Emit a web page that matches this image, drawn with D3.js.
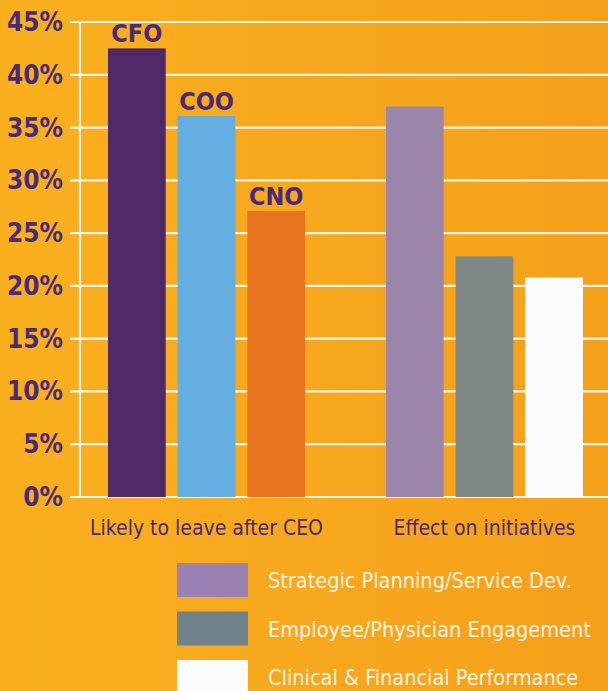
<!DOCTYPE html>
<html>
<head>
<meta charset="utf-8">
<script src="https://cdn.jsdelivr.net/npm/d3@7"></script>
<style>
  body { margin: 0; }
  svg { display: block; }
  text { font-family: "Liberation Sans Narrow", "DejaVu Sans Condensed", "Roboto", sans-serif; }
</style>
</head>
<body>
<div id="wrapper"></div>
<script>
// data
const groups = ["Likely to leave after CEO", "Effect on initiatives"]
const leaveRoles = ["CFO", "COO", "CNO"]
const leaveValues = [42.5, 36.1, 27.1]
const initiativeNames = ["Strategic Planning/Service Dev.", "Employee/Physician Engagement", "Clinical & Financial Performance"]
const initiativeValues = [37.0, 22.8, 20.8]
const yTicks = [0, 5, 10, 15, 20, 25, 30, 35, 40, 45]

const leaveColors = ["#502a68", "#64aee2", "#e8741f"]
const initiativeColors = ["#9b86aa", "#7f8886", "#fbfcfd"]
const legendColors = ["#9b82b4", "#6f818a", "#fbfcfd"]

const width = 608
const height = 691
const margin = {top: 22, left: 80, right: 0}
const y0 = 497

const svg = d3.select("#wrapper").append("svg")
    .attr("width", width)
    .attr("height", height)

// background
const defs = svg.append("defs")
const bg = defs.append("linearGradient").attr("id", "bg")
bg.append("stop").attr("offset", "0%").attr("stop-color", "#f9b01f")
bg.append("stop").attr("offset", "100%").attr("stop-color", "#f5a01b")
svg.append("rect").attr("width", width).attr("height", height).attr("fill", "url(#bg)")

const yScale = d3.scaleLinear()
    .domain([0, 45])
    .range([y0, margin.top])

// group bands
const groupScale = d3.scaleBand()
    .domain(groups)
    .range([108, 583])
    .paddingInner(0.291)
    .paddingOuter(0)

const barScale = d3.scaleBand()
    .domain([0, 1, 2])
    .range([0, groupScale.bandwidth()])
    .paddingInner(0.171)
    .paddingOuter(0)

// grid
svg.append("g")
  .selectAll("line")
  .data(yTicks)
  .join("line")
    .attr("x1", 70)
    .attr("x2", width)
    .attr("y1", d => yScale(d))
    .attr("y2", d => yScale(d))
    .attr("stroke", "#fdf6ea")
    .attr("stroke-width", 2.2)

svg.append("line")
    .attr("x1", margin.left).attr("x2", margin.left)
    .attr("y1", yScale(45)).attr("y2", y0)
    .attr("stroke", "#fdf6ea")
    .attr("stroke-width", 2.2)

// tick labels
svg.append("g")
  .selectAll("text")
  .data(yTicks)
  .join("text")
    .attr("x", 63)
    .attr("y", d => yScale(d) + 9)
    .attr("text-anchor", "end")
    .attr("font-size", 26)
    .attr("font-weight", "bold")
    .attr("fill", "#4a2a78")
    .text(d => d + "%")

const series = [
  {group: groups[0], values: leaveValues, colors: leaveColors, labels: leaveRoles},
  {group: groups[1], values: initiativeValues, colors: initiativeColors, labels: null},
]

series.forEach(s => {
  const g = svg.append("g")
      .attr("transform", `translate(${groupScale(s.group)},0)`)
  g.selectAll("rect")
    .data(s.values)
    .join("rect")
      .attr("x", (d, i) => barScale(i))
      .attr("y", d => yScale(d))
      .attr("width", barScale.bandwidth())
      .attr("height", d => y0 - yScale(d))
      .attr("fill", (d, i) => s.colors[i])
  if (s.labels) {
    g.selectAll(".bar-label")
      .data(s.values)
      .join("text")
        .attr("class", "bar-label")
        .attr("x", (d, i) => barScale(i) + barScale.bandwidth() / 2)
        .attr("y", d => yScale(d) - 6)
        .attr("text-anchor", "middle")
        .attr("font-size", 25)
        .attr("font-weight", "bold")
        .attr("fill", "#4a2a78")
        .text((d, i) => s.labels[i])
  }
  svg.append("text")
      .attr("x", groupScale(s.group) + groupScale.bandwidth() / 2)
      .attr("y", 535)
      .attr("text-anchor", "middle")
      .attr("font-size", 21)
      .attr("fill", "#4a2a78")
      .text(s.group)
})

// legend
const legend = svg.append("g")
  .selectAll("g")
  .data(initiativeNames)
  .join("g")
    .attr("transform", (d, i) => `translate(177,${563 + i * 48.5})`)

legend.append("rect")
    .attr("width", 71)
    .attr("height", 34)
    .attr("fill", (d, i) => legendColors[i])

legend.append("text")
    .attr("x", 91)
    .attr("y", 25)
    .attr("font-size", 21.5)
    .attr("fill", "#fdf3e4")
    .text(d => d)
</script>
</body>
</html>
